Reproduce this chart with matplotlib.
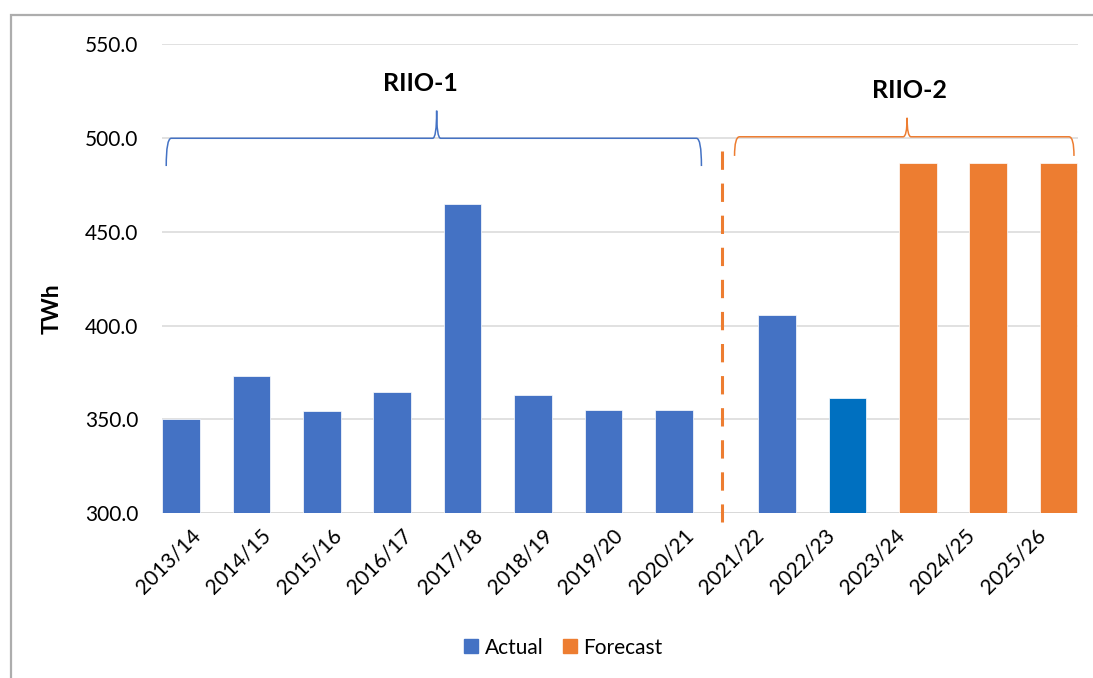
import numpy as np
import matplotlib
matplotlib.use("Agg")
import matplotlib.pyplot as plt
from matplotlib.path import Path
from matplotlib.patches import PathPatch, Rectangle, Patch

plt.rcParams['font.family'] = ['Lato', 'DejaVu Sans']

# ---- data ----
categories = ["2013/14", "2014/15", "2015/16", "2016/17", "2017/18", "2018/19",
              "2019/20", "2020/21", "2021/22", "2022/23", "2023/24", "2024/25", "2025/26"]
actual = [350.4, 373.3, 354.5, 364.5, 464.8, 362.9, 355.0, 355.0,
          np.nan, np.nan, np.nan, np.nan, np.nan]
forecast = [np.nan] * 8 + [405.6, 361.4, 486.5, 486.5, 486.5]
forecast_colors = ["#ED7D31"] * 8 + ["#4472C4", "#0070C0", "#ED7D31", "#ED7D31", "#ED7D31"]
series_names = ["Actual", "Forecast"]
period_labels = ["RIIO-1", "RIIO-2"]
y_ticks = [300, 350, 400, 450, 500, 550]

BLUE = "#4472C4"
ORANGE = "#ED7D31"

W, H = 1093, 678
fig = plt.figure(figsize=(W / 100, H / 100), dpi=100)
ax = fig.add_axes([162 / W, 1 - 513.3 / H, (1077.5 - 162) / W, (513.3 - 44.05) / H])

x = np.arange(len(categories))
off = 0.2316
bw = 0.533
ax.bar(x - off, actual, width=bw, color=BLUE, edgecolor="white", linewidth=0.5, zorder=3)
ax.bar(x + off, forecast, width=bw, color=forecast_colors, edgecolor="white", linewidth=0.5, zorder=3)

ax.set_xlim(-0.5, len(categories) - 0.5)
ax.set_ylim(300, 550)
ax.set_yticks(y_ticks)
ax.set_yticklabels([f"{v:.1f}" for v in y_ticks])
ax.yaxis.grid(True, color="#D9D9D9", linewidth=1.1, zorder=0)
ax.set_axisbelow(True)
for s in ax.spines.values():
    s.set_visible(False)
ax.axhline(300, color="#D9D9D9", linewidth=1.3, zorder=1)
ax.tick_params(axis="both", length=0, labelsize=15, colors="#000000")
ax.tick_params(axis="y", pad=17)
ax.tick_params(axis="x", pad=14)
ax.set_xticks(x)
ax.set_xticklabels(categories, rotation=45, ha="right", va="center", rotation_mode="anchor")

# divider dashed line
ax.plot([7.45, 7.45], [493.2, 295.5], color=ORANGE, linewidth=2.2,
        dashes=(6.0, 4.5), clip_on=False, zorder=4, dash_capstyle="butt")


def brace(x0, x1, xt, yh, yb, ytop, dx, dt, color):
    verts = [(x0, yb), (x0, yh), (x0 + dx, yh),
             (xt - dt, yh), (xt, yh), (xt, ytop),
             (xt, yh), (xt + dt, yh),
             (x1 - dx, yh), (x1, yh), (x1, yb)]
    codes = [Path.MOVETO, Path.CURVE3, Path.CURVE3,
             Path.LINETO, Path.CURVE3, Path.CURVE3,
             Path.CURVE3, Path.CURVE3,
             Path.LINETO, Path.CURVE3, Path.CURVE3]
    ax.add_patch(PathPatch(Path(verts, codes), facecolor="none", edgecolor=color,
                           linewidth=1.1, clip_on=False, zorder=5))


brace(-0.44, 7.16, 3.40, 499.8, 485.0, 514.5, 0.071, 0.057, BLUE)
brace(7.63, 12.45, 10.08, 500.6, 490.4, 510.7, 0.071, 0.057, ORANGE)

ax.text(3.175, 529.2, period_labels[0], ha="center", va="center", fontsize=18, fontweight="bold")
ax.text(10.12, 525.5, period_labels[1], ha="center", va="center", fontsize=18, fontweight="bold")

fig.text(52 / W, 1 - 309 / H, "TWh", rotation=90, ha="center", va="center",
         fontsize=16.5, fontweight="bold")

# legend
handles = [Patch(color=BLUE, label=series_names[0]), Patch(color=ORANGE, label=series_names[1])]
fig.legend(handles=handles, loc="center", bbox_to_anchor=(563.5 / W, 1 - 647.5 / H),
           ncol=2, frameon=False, fontsize=15, handlelength=0.67, handleheight=0.67,
           handletextpad=0.3, columnspacing=0.95)

# chart frame (cropped)
fig.patches.append(Rectangle((10.5 / W, -0.1), 1.2, (1 - 15 / H) + 0.1, transform=fig.transFigure,
                             fill=False, edgecolor="#ADADAD", linewidth=1.6))

fig.savefig("out.png", dpi=100, facecolor="white")
